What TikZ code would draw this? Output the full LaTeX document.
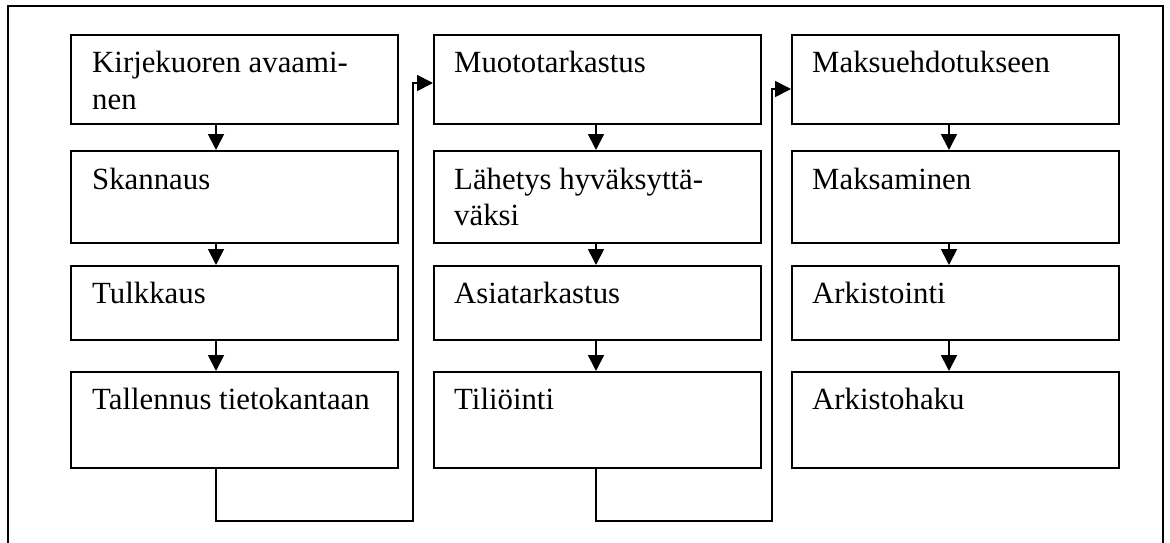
\documentclass[tikz,border=0pt]{standalone}
\usepackage{fontspec}
\setmainfont{Liberation Serif}
\usetikzlibrary{arrows.meta,calc}
\begin{document}
\begin{tikzpicture}[x=1pt,y=-1pt,
  stepbox/.style={draw, line width=2pt, inner sep=0pt, anchor=north west,
                  minimum width=327pt},
  lbl/.style={anchor=base west, inner sep=0pt, align=left,
              font=\fontsize{30.8}{36}\selectfont},
  flow/.style={line width=1.8pt, -{Triangle[length=16pt,width=16pt]}},
  link/.style={line width=1.8pt}]
\useasboundingbox (0,0) rectangle (1170,543);

% open outer frame
\draw[line width=1.8pt] (8,548) -- (8,6) -- (1163,6) -- (1163,548);

% column positions of the down arrows and the return lines
\coordinate (xa) at (216,0);
\coordinate (xb) at (596,0);
\coordinate (xc) at (949,0);
\coordinate (ra) at (413,521);
\coordinate (rb) at (772,521);

% boxes, column by column
\foreach \col/\x in {a/70, b/433, c/791} {
  \node[stepbox, minimum height=89pt] (\col1) at (\x,34) {};
  \node[stepbox, minimum height=92pt] (\col2) at (\x,150) {};
  \node[stepbox, minimum height=74pt] (\col3) at (\x,265) {};
  \node[stepbox, minimum height=96pt] (\col4) at (\x,371) {};
}

% labels (base anchor sits on the last line)
\node[lbl] (ta1) at ($(a1.north west)+(22,75)$) {Kirjekuoren avaami-\\nen};
\node[lbl] (ta2) at ($(a2.north west)+(22,39)$) {Skannaus};
\node[lbl] (ta3) at ($(a3.north west)+(22,38)$) {Tulkkaus};
\node[lbl] (ta4) at ($(a4.north west)+(22,38)$) {Tallennus tietokantaan};

\node[lbl] (tb1) at ($(b1.north west)+(21,39)$) {Muototarkastus};
\node[lbl] (tb2) at ($(b2.north west)+(21,75)$) {Lähetys hyväksyttä-\\väksi};
\node[lbl] (tb3) at ($(b3.north west)+(21,38)$) {Asiatarkastus};
\node[lbl] (tb4) at ($(b4.north west)+(21,38)$) {Tiliöinti};

\node[lbl] (tc1) at ($(c1.north west)+(21,39)$) {Maksuehdotukseen};
\node[lbl] (tc2) at ($(c2.north west)+(21,39)$) {Maksaminen};
\node[lbl] (tc3) at ($(c3.north west)+(21,38)$) {Arkistointi};
\node[lbl] (tc4) at ($(c4.north west)+(21,38)$) {Arkistohaku};

% arrows down each column
\foreach \col in {a,b,c} {
  \draw[flow] (\col1.south -| x\col) -- (\col2.north -| x\col);
  \draw[flow] (\col2.south -| x\col) -- (\col3.north -| x\col);
  \draw[flow] (\col3.south -| x\col) -- (\col4.north -| x\col);
}

% return lines into the next column
\coordinate (ea) at ($(b1.north west)+(0,49)$);
\coordinate (eb) at ($(c1.north west)+(0,55)$);
\draw[flow] (a4.south -| xa) |- (ra) |- (ea);
\draw[flow] (b4.south -| xb) |- (rb) |- (eb);
\end{tikzpicture}
\end{document}
